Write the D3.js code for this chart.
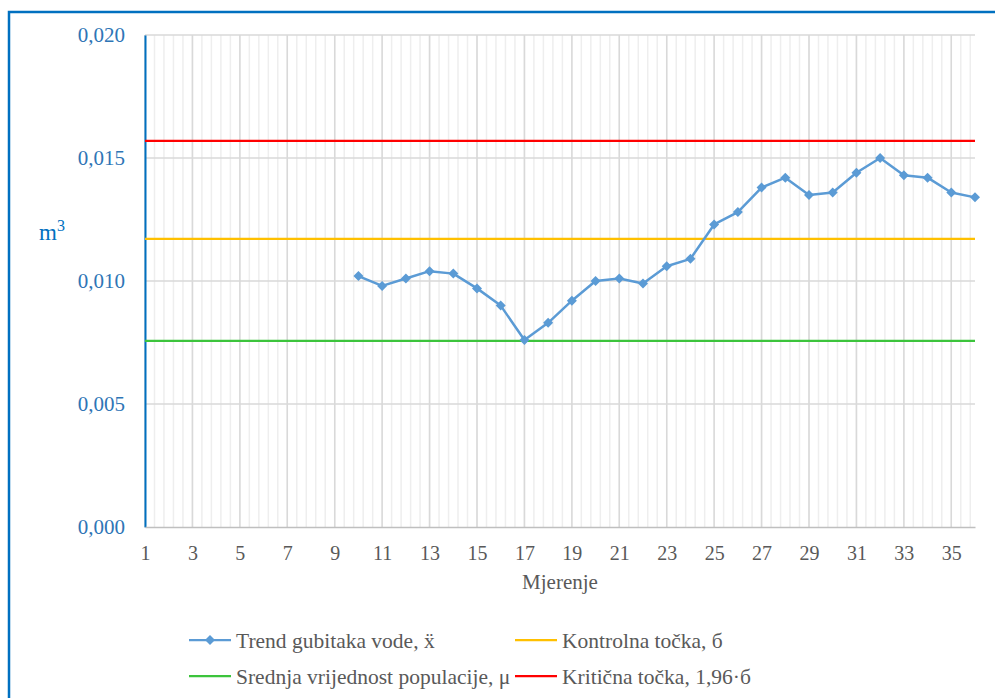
<!DOCTYPE html>
<html>
<head>
<meta charset="utf-8">
<script src="https://cdn.jsdelivr.net/npm/d3@7/dist/d3.min.js"></script>
<style>
  html, body { margin: 0; padding: 0; background: #ffffff; }
  svg { display: block; }
  text { font-family: "Liberation Serif", "Times New Roman", serif; }
</style>
</head>
<body>
<svg id="chart" width="995" height="698"></svg>
<script>
// Measurement numbers (Mjerenje)
const categories = [1, 2, 3, 4, 5, 6, 7, 8, 9, 10, 11, 12, 13, 14, 15, 16, 17, 18,
  19, 20, 21, 22, 23, 24, 25, 26, 27, 28, 29, 30, 31, 32, 33, 34, 35, 36];

// Water-loss trend (m³); no values before measurement 10
const trendValues = [null, null, null, null, null, null, null, null, null,
  0.0102, 0.0098, 0.0101, 0.0104, 0.0103, 0.0097, 0.0090, 0.0076, 0.0083,
  0.0092, 0.0100, 0.0101, 0.0099, 0.0106, 0.0109, 0.0123, 0.0128, 0.0138,
  0.0142, 0.0135, 0.0136, 0.0144, 0.0150, 0.0143, 0.0142, 0.0136, 0.0134];

// Reference levels
const populationMean = 0.00757;
const controlPoint = 0.01171;
const criticalPoint = 0.01570;

// Axis ticks
const yTicks = [0, 0.005, 0.010, 0.015, 0.020];
const xTickLabels = [1, 3, 5, 7, 9, 11, 13, 15, 17, 19, 21, 23, 25, 27, 29, 31, 33, 35];

// Legend entries
const legendLabels = ["Trend gubitaka vode, \u1E8D", "Kontrolna točka, б",
  "Srednja vrijednost populacije, μ", "Kritična točka, 1,96·б"];

const svg = d3.select("#chart");
const plotLeft = 145, plotRight = 975, plotTop = 35, plotBottom = 527;

const x = d3.scaleLinear()
  .domain([categories[0], categories[categories.length - 1]])
  .range([plotLeft, plotRight]);
const y = d3.scaleLinear().domain([0, 0.02]).range([plotBottom, plotTop]);

const locale = d3.formatLocale({ decimal: ",", thousands: ".", grouping: [3], currency: ["", ""] });
const fmt = locale.format(".3f");

// Outer frame
svg.append("rect")
  .attr("x", 9).attr("y", 12)
  .attr("width", 1000).attr("height", 700)
  .attr("fill", "none").attr("stroke", "#0070c0").attr("stroke-width", 2.5);

// Minor vertical gridlines (five per two measurements)
const minorStep = 0.4;
const minorX = [];
for (let v = categories[0]; v < categories[categories.length - 1] - 1e-6; v += minorStep) {
  minorX.push(v);
}
svg.append("g").selectAll("line")
  .data(minorX)
  .join("line")
  .attr("x1", d => x(d)).attr("x2", d => x(d))
  .attr("y1", plotTop).attr("y2", plotBottom)
  .attr("stroke", "#eeeeee").attr("stroke-width", 1.5);

// Major vertical gridlines
svg.append("g").selectAll("line")
  .data(xTickLabels)
  .join("line")
  .attr("x1", d => x(d)).attr("x2", d => x(d))
  .attr("y1", plotTop).attr("y2", plotBottom)
  .attr("stroke", "#d9d9d9").attr("stroke-width", 1.5);

// Horizontal gridlines
svg.append("g").selectAll("line")
  .data(yTicks.slice(1))
  .join("line")
  .attr("x1", plotLeft).attr("x2", plotRight)
  .attr("y1", d => y(d)).attr("y2", d => y(d))
  .attr("stroke", "#d9d9d9").attr("stroke-width", 1.5);

// Y axis
const yAxis = svg.append("g")
  .attr("transform", `translate(${plotLeft},0)`)
  .call(d3.axisLeft(y).tickValues(yTicks).tickFormat(fmt).tickSize(0).tickPadding(20));
yAxis.select(".domain").attr("stroke", "#0070c0").attr("stroke-width", 2);
yAxis.selectAll("text")
  .attr("fill", "#2e75b6")
  .style("font-family", "'Liberation Serif', serif")
  .style("font-size", "21px");

// X axis
const xAxis = svg.append("g")
  .attr("transform", `translate(0,${plotBottom})`)
  .call(d3.axisBottom(x).tickValues(xTickLabels).tickFormat(d3.format("d")).tickSize(0).tickPadding(19));
xAxis.select(".domain").attr("stroke", "#bfbfbf").attr("stroke-width", 1.5);
xAxis.selectAll("text")
  .attr("fill", "#595959")
  .style("font-family", "'Liberation Serif', serif")
  .style("font-size", "20px");

// Axis titles
svg.append("text")
  .attr("x", (plotLeft + plotRight) / 2).attr("y", 589)
  .attr("text-anchor", "middle")
  .attr("fill", "#595959").style("font-size", "21px")
  .text("Mjerenje");

const yTitle = svg.append("text")
  .attr("x", 39).attr("y", 240)
  .attr("fill", "#0070c0").style("font-size", "23px");
yTitle.append("tspan").text("m");
yTitle.append("tspan").attr("dy", -9).style("font-size", "16px").text("3");

// Reference lines
const refLines = [
  { value: populationMean, color: "#3cc43c" },
  { value: controlPoint, color: "#ffc000" },
  { value: criticalPoint, color: "#ff0000" }
];
svg.append("g").selectAll("line")
  .data(refLines)
  .join("line")
  .attr("x1", plotLeft).attr("x2", plotRight)
  .attr("y1", d => y(d.value)).attr("y2", d => y(d.value))
  .attr("stroke", d => d.color).attr("stroke-width", 2.25);

// Trend series
const trendColor = "#5b9bd5";
const points = categories.map((c, i) => ({ c, v: trendValues[i] })).filter(d => d.v !== null);

svg.append("path")
  .datum(points)
  .attr("fill", "none")
  .attr("stroke", trendColor)
  .attr("stroke-width", 2.5)
  .attr("stroke-linejoin", "round")
  .attr("d", d3.line().x(d => x(d.c)).y(d => y(d.v)));

const diamond = d3.symbol().type(d3.symbolSquare).size(50);
svg.append("g").selectAll("path")
  .data(points)
  .join("path")
  .attr("d", diamond)
  .attr("transform", d => `translate(${x(d.c)},${y(d.v)}) rotate(45)`)
  .attr("fill", trendColor);

// Legend
const legendItems = [
  { label: legendLabels[0], color: trendColor, marker: true, lx: 189, ly: 640 },
  { label: legendLabels[1], color: "#ffc000", marker: false, lx: 515, ly: 640 },
  { label: legendLabels[2], color: "#3cc43c", marker: false, lx: 189, ly: 676 },
  { label: legendLabels[3], color: "#ff0000", marker: false, lx: 515, ly: 676 }
];
const legend = svg.append("g").selectAll("g")
  .data(legendItems)
  .join("g")
  .attr("transform", d => `translate(${d.lx},${d.ly})`);
legend.append("line")
  .attr("x1", 0).attr("x2", 42)
  .attr("y1", 0).attr("y2", 0)
  .attr("stroke", d => d.color).attr("stroke-width", 2.25);
legend.filter(d => d.marker).append("path")
  .attr("d", diamond)
  .attr("transform", "translate(21,0) rotate(45)")
  .attr("fill", d => d.color);
legend.append("text")
  .attr("x", 47).attr("y", 0).attr("dy", "0.35em")
  .attr("fill", "#595959").style("font-size", "21.5px")
  .text(d => d.label);
</script>
</body>
</html>
